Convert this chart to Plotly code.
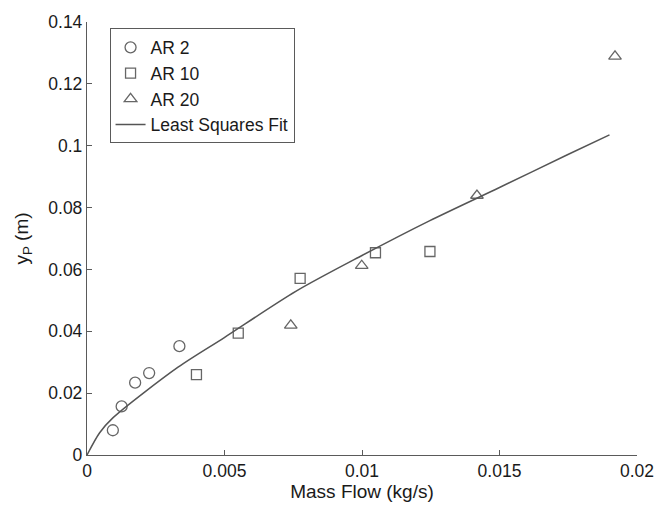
import plotly.graph_objects as go

# Data
ar2_x = [0.00094, 0.00126, 0.00175, 0.00226, 0.00336]
ar2_y = [0.0080, 0.0157, 0.0234, 0.0265, 0.0352]
ar10_x = [0.00398, 0.0055, 0.00775, 0.01049, 0.01247]
ar10_y = [0.0260, 0.0394, 0.0571, 0.0654, 0.0658]
ar20_x = [0.00741, 0.00999, 0.01418, 0.0192]
ar20_y = [0.0419, 0.0612, 0.0839, 0.1289]
fit_x = [0.0, 0.00046, 0.00094, 0.00331, 0.00498, 0.00759, 0.01000, 0.01245, 0.01500, 0.01745, 0.019]
fit_y = [0.0, 0.0072, 0.0120, 0.0284, 0.0379, 0.0529, 0.0645, 0.0757, 0.0865, 0.0970, 0.1035]

x_ticks = [0, 0.005, 0.01, 0.015, 0.02]
x_labels = ["0", "0.005", "0.01", "0.015", "0.02"]
y_ticks = [0, 0.02, 0.04, 0.06, 0.08, 0.1, 0.12, 0.14]
y_labels = ["0", "0.02", "0.04", "0.06", "0.08", "0.1", "0.12", "0.14"]

FONT = "Liberation Sans, Arial, sans-serif"
MK = "#666666"
TXT = "#1a1a1a"
AX = "#5a5a5a"

fig = go.Figure()
fig.add_trace(go.Scatter(x=ar2_x, y=ar2_y, mode="markers", name="AR 2",
                         marker=dict(symbol="circle-open", size=11, color=MK, line=dict(width=1.3))))
fig.add_trace(go.Scatter(x=ar10_x, y=ar10_y, mode="markers", name="AR 10",
                         marker=dict(symbol="square-open", size=10, color=MK, line=dict(width=1.3))))
fig.add_trace(go.Scatter(x=ar20_x, y=ar20_y, mode="markers", name="AR 20",
                         marker=dict(symbol="triangle-up-open", size=11, color=MK, line=dict(width=1.3))))
fig.add_trace(go.Scatter(x=fit_x, y=fit_y, mode="lines", name="Least Squares Fit",
                         line=dict(color="#555555", width=1.5, shape="spline", smoothing=0.8)))

fig.update_layout(
    width=666, height=510,
    margin=dict(l=87, r=18, t=15, b=54),
    paper_bgcolor="white", plot_bgcolor="white",
    font=dict(family=FONT, size=17, color=TXT),
    showlegend=True,
    legend=dict(x=0.041, y=0.985, xanchor="left", yanchor="top",
                bordercolor=AX, borderwidth=1, bgcolor="white",
                font=dict(family=FONT, size=17.5, color=TXT),
                tracegroupgap=0, itemsizing="trace"),
    xaxis=dict(range=[0, 0.02], tickvals=x_ticks, ticktext=x_labels,
               showgrid=False, zeroline=False, showline=True, linecolor=AX, linewidth=1.3,
               ticks="inside", ticklen=5, tickcolor=AX, tickwidth=1.3,
               title=dict(text="Mass Flow (kg/s)", font=dict(size=19), standoff=4),
               tickfont=dict(size=17.5)),
    yaxis=dict(range=[0, 0.14], tickvals=y_ticks, ticktext=y_labels,
               showgrid=False, zeroline=False, showline=True, linecolor=AX, linewidth=1.3,
               ticks="inside", ticklen=5, tickcolor=AX, tickwidth=1.3,
               title=dict(text="y<sub>P</sub> (m)", font=dict(size=19), standoff=14),
               tickfont=dict(size=17.5)),
)

fig.write_html("out.html")
